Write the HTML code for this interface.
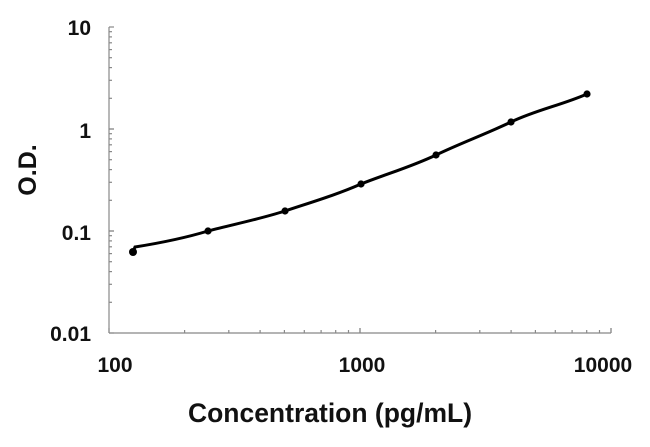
<!DOCTYPE html>
<html><head><meta charset="utf-8"><style>
html,body{margin:0;padding:0;background:#fff;}
svg{display:block;font-family:"Liberation Sans",Arial,sans-serif;font-weight:bold;}
</style></head><body>
<svg id="s" width="650" height="447" viewBox="0 0 650 447" xmlns="http://www.w3.org/2000/svg">
<rect width="650" height="447" fill="#fff"/>
<g id="ax" stroke="#888" stroke-width="1.2" fill="none">
<line x1="109" y1="27" x2="109" y2="333"/>
<line x1="109" y1="333" x2="611" y2="333"/>
</g>
<g font-size="21" fill="#111" text-anchor="end">
<text x="91" y="35">10</text>
<text x="91" y="138">1</text>
<text x="91" y="240">0.1</text>
<text x="91" y="341">0.01</text>
</g>
<g font-size="21" fill="#111" text-anchor="middle">
<text x="115" y="372">100</text>
<text x="362" y="372">1000</text>
<text x="603" y="372">10000</text>
</g>
<text x="330" y="422" font-size="26.5" fill="#111" text-anchor="middle">Concentration (pg/mL)</text>
<text transform="translate(36,170) rotate(-90)" font-size="25" fill="#111" text-anchor="middle">O.D.</text>
<path d="M133,252 L135,247 C160,243 185,238 208,231 C235,224 260,219 285,211 C312,202 336,195 361,184 C386,174 411,167 436,155 C461,143 486,134 511,122 C536,110 562,105 587,94" stroke="#000" stroke-width="3" fill="none"/>
<g fill="#000">
<circle cx="133" cy="252" r="4"/><circle cx="208" cy="231" r="3.6"/><circle cx="285" cy="211" r="3.6"/>
<circle cx="361" cy="184" r="3.6"/><circle cx="436" cy="155" r="3.6"/><circle cx="511" cy="122" r="3.6"/><circle cx="587" cy="94" r="3.6"/>
</g>
</svg>
<script>
var g=document.getElementById('ax'),o="";
for(var d=0;d<3;d++){for(var k=1;k<=10;k++){
 var yy=333-102*d-102*Math.log10(k);var len=(k==1||k==10)?5:3;
 o+='<line x1="109" y1="'+yy.toFixed(1)+'" x2="'+(109+len)+'" y2="'+yy.toFixed(1)+'"/>';
 var xx=109+251*d+251*Math.log10(k);
 o+='<line x1="'+xx.toFixed(1)+'" y1="333" x2="'+xx.toFixed(1)+'" y2="'+(333-len)+'"/>';
}}
g.insertAdjacentHTML('beforeend',o);
</script>
</body></html>
